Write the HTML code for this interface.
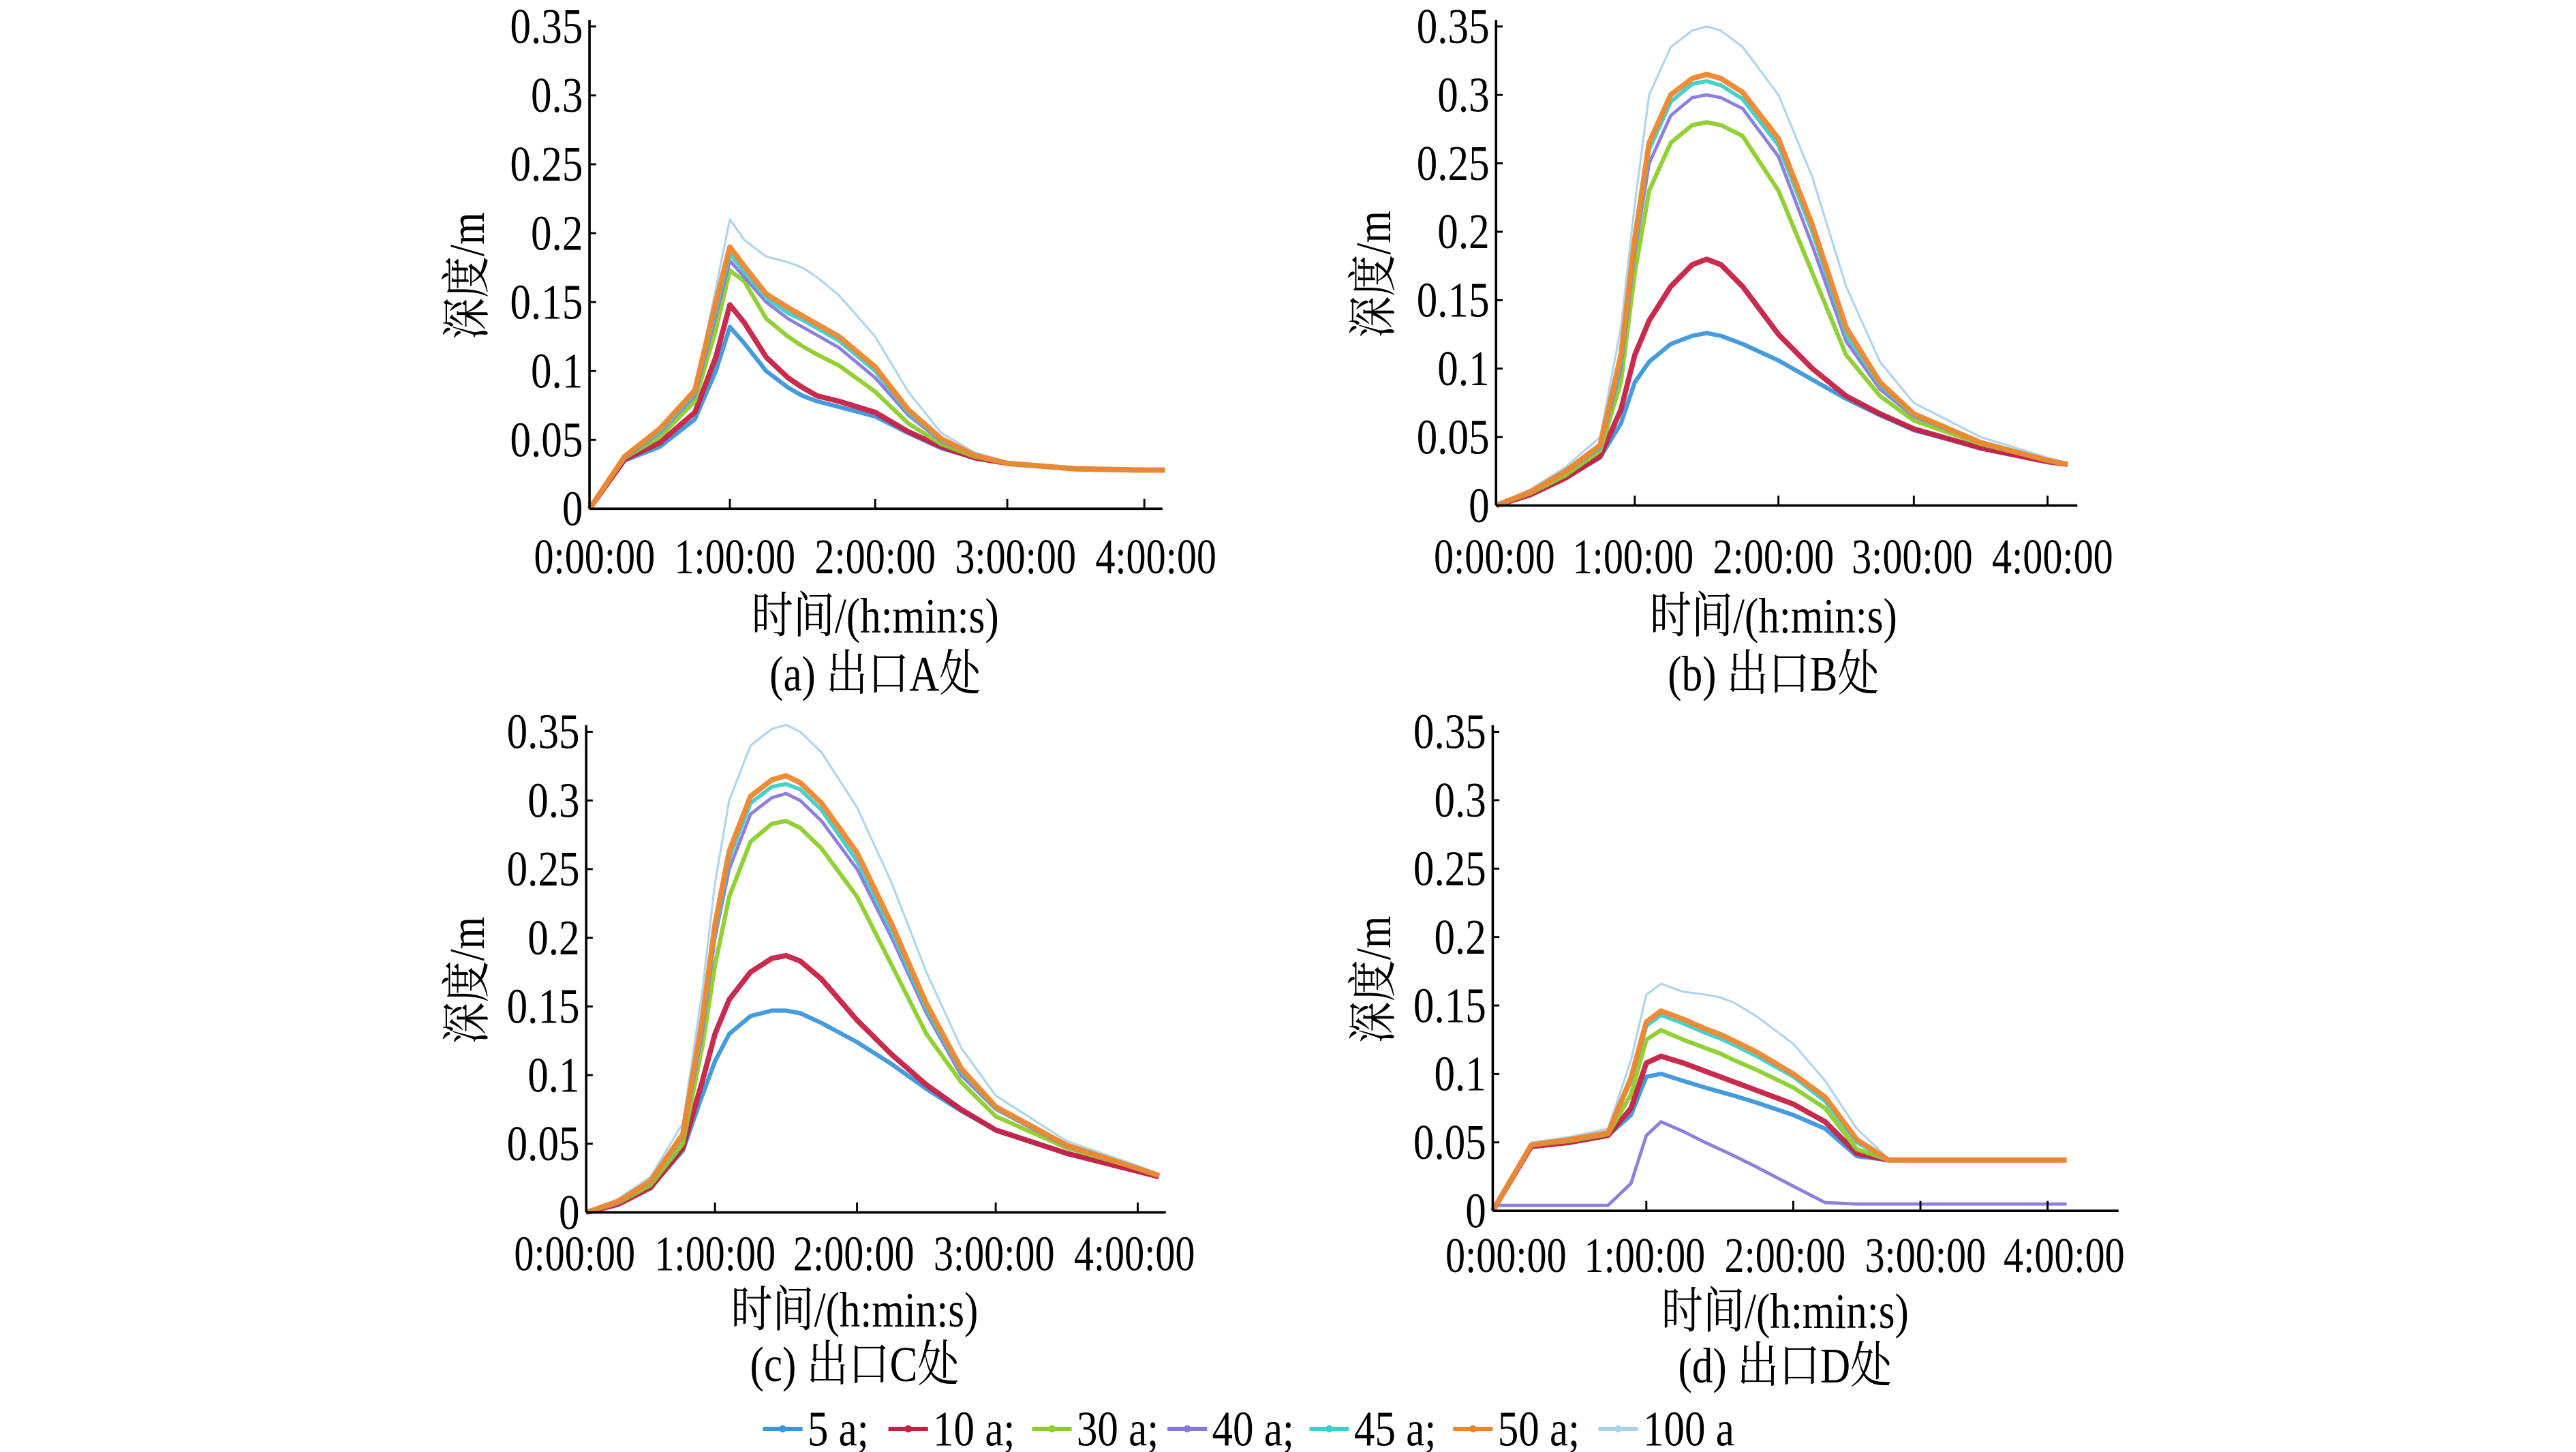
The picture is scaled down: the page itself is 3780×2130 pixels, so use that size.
<!DOCTYPE html>
<html><head><meta charset="utf-8"><style>
html,body{margin:0;padding:0;background:#fff;}
svg{display:block;}
text{font-family:"Liberation Serif","Noto Serif CJK SC","Noto Sans CJK SC",serif;fill:#000;}
</style></head><body>
<svg id="fig" xmlns="http://www.w3.org/2000/svg" width="3780" height="2130" viewBox="0 0 1560 879">
<rect width="1560" height="879" fill="#fff"/>
</svg>
<script>
const times = [0,0.25,0.5,0.75,0.9,1.0,1.1,1.25,1.4,1.5,1.6,1.75,2.0,2.25,2.5,2.75,3.0,3.5,4.0,4.15];
const seriesNames = ['5 a','10 a','30 a','40 a','45 a','50 a','100 a'];
const xTickLabels = ['0:00:00','1:00:00','2:00:00','3:00:00','4:00:00'];
const yTickValues = [0,0.05,0.1,0.15,0.2,0.25,0.3,0.35];
const yTickLabels = ['0','0.05','0.1','0.15','0.2','0.25','0.3','0.35'];

const panelA = [
 [0,.035,.045,.065,.1,.132,.12,.1,.088,.082,.078,.074,.067,.055,.044,.037,.033,.029,.028,.028],
 [0,.036,.048,.07,.11,.148,.135,.11,.095,.088,.082,.078,.07,.056,.045,.037,.033,.029,.028,.028],
 [0,.037,.052,.078,.13,.173,.165,.138,.125,.118,.112,.104,.085,.062,.047,.038,.033,.029,.028,.028],
 [0,.037,.055,.082,.14,.18,.168,.15,.138,.132,.126,.117,.095,.068,.049,.039,.033,.029,.028,.028],
 [0,.038,.056,.084,.145,.185,.172,.153,.142,.137,.131,.122,.1,.07,.05,.039,.033,.029,.028,.028],
 [0,.038,.058,.086,.15,.19,.176,.156,.146,.14,.134,.125,.103,.072,.051,.039,.033,.029,.028,.028],
 [0,.038,.058,.086,.16,.21,.195,.183,.179,.175,.168,.155,.125,.085,.055,.041,.034,.029,.028,.028]
];
const panelB = [
 [0,.008,.02,.035,.06,.09,.105,.118,.124,.126,.124,.118,.106,.092,.078,.066,.055,.042,.032,.030],
 [0,.008,.02,.036,.07,.11,.135,.16,.176,.18,.176,.16,.125,.1,.08,.067,.056,.042,.032,.030],
 [0,.009,.022,.04,.09,.17,.23,.265,.278,.28,.278,.27,.23,.17,.11,.08,.062,.045,.033,.030],
 [0,.01,.024,.042,.1,.185,.25,.285,.298,.3,.298,.29,.255,.19,.12,.085,.065,.046,.033,.030],
 [0,.01,.025,.043,.105,.19,.26,.295,.308,.31,.307,.297,.263,.2,.125,.088,.066,.046,.033,.030],
 [0,.01,.025,.044,.11,.195,.265,.3,.312,.315,.312,.302,.268,.205,.13,.09,.067,.046,.033,.030],
 [0,.012,.028,.05,.13,.22,.3,.335,.347,.35,.347,.335,.3,.24,.16,.105,.075,.05,.035,.031]
];
const panelC = [
 [0,.006,.018,.045,.085,.11,.13,.143,.147,.147,.145,.138,.124,.108,.09,.074,.06,.043,.03,.026],
 [0,.006,.018,.047,.095,.13,.155,.175,.185,.187,.183,.17,.14,.115,.093,.075,.06,.043,.03,.026],
 [0,.007,.02,.05,.12,.18,.23,.27,.283,.285,.28,.265,.23,.18,.13,.095,.07,.047,.032,.027],
 [0,.007,.022,.055,.13,.2,.25,.29,.302,.305,.3,.285,.25,.2,.145,.1,.075,.048,.032,.027],
 [0,.008,.022,.056,.135,.205,.258,.298,.31,.312,.308,.293,.256,.205,.148,.103,.076,.049,.032,.027],
 [0,.008,.023,.057,.14,.21,.263,.303,.315,.318,.313,.298,.262,.21,.152,.105,.077,.049,.032,.027],
 [0,.01,.026,.065,.16,.24,.3,.34,.352,.355,.35,.335,.295,.24,.175,.12,.085,.052,.034,.028]
];
const panelD = [
 [0,.047,.05,.055,.07,.098,.1,.095,.09,.087,.084,.079,.07,.06,.04,.037,.037,.037,.037,.037],
 [0,.047,.05,.055,.075,.108,.113,.108,.102,.098,.094,.088,.078,.065,.042,.037,.037,.037,.037,.037],
 [0,.048,.051,.056,.085,.125,.132,.125,.119,.115,.11,.103,.09,.075,.045,.037,.037,.037,.037,.037],
 [.004,.004,.004,.004,.02,.055,.065,.058,.05,.045,.04,.032,.018,.006,.005,.005,.005,.005,.005,.005],
 [0,.048,.052,.057,.095,.135,.143,.137,.13,.126,.121,.113,.098,.08,.05,.037,.037,.037,.037,.037],
 [0,.048,.052,.057,.097,.138,.146,.14,.133,.129,.124,.116,.1,.083,.052,.037,.037,.037,.037,.037],
 [0,.05,.054,.06,.11,.158,.166,.16,.158,.156,.152,.142,.122,.095,.06,.038,.037,.037,.037,.037]
];

const colors = ['#3a96dd','#c61f45','#8ccf2a','#8878dc','#3ccfcc','#f0852c','#a9d3ec'];
const widths = [2.6,3.2,2.6,2,2.4,3.2,1.3];
const NS='http://www.w3.org/2000/svg';
const svg=document.getElementById('fig');
function el(tag,attrs,parent){const e=document.createElementNS(NS,tag);for(const k in attrs)e.setAttribute(k,attrs[k]);(parent||svg).appendChild(e);return e;}
function txt(parent,x,y,anchor,size,s,rot,sx){
 const tr='translate('+x+' '+y+')'+(rot?' rotate(-90)':'')+' scale('+(sx||0.84)+' 1)';
 const t=el('text',{x:0,y:0,'text-anchor':anchor,'font-size':size,transform:tr},parent);
 t.textContent=s;return t;
}

const panels=[
 {id:'a',data:panelA,ax:357,y0:308,y35:16,ticks:[357,442,530,610,693],lx:[360,445,530,615,700],xend:704,lab:337,xt:373,cap:408,yt:283,caption:'(a) 出口A处'},
 {id:'b',data:panelB,ax:906,y0:306,y35:16,ticks:[906,990,1077,1159,1240],lx:[905,989,1074,1158,1243],xend:1258,lab:337,xt:373,cap:408,yt:832,caption:'(b) 出口B处'},
 {id:'c',data:panelC,ax:355,y0:734,y35:443,ticks:[355,433,519,603,689],lx:[348,433,517,602,687],xend:706,lab:759,xt:793,cap:826,yt:283,caption:'(c) 出口C处'},
 {id:'d',data:panelD,ax:904,y0:733,y35:443,ticks:[904,997,1086,1163,1240],lx:[912,996,1081,1166,1250],xend:1283,lab:760,xt:794,cap:827,yt:832,caption:'(d) 出口D处'}
];

panels.forEach(p=>{
 const g=el('g',{});
 
 
 const yS=v=>p.y0-(v/0.35)*(p.y0-p.y35);
 const xS=h=>{const i=Math.min(3,Math.floor(h));return p.ticks[i]+(h-i)*(p.ticks[i+1]-p.ticks[i]);};
 const order=[6,0,1,2,3,4,5];
 order.forEach(si=>{
  const pts=times.map((t,i)=>xS(t).toFixed(1)+','+yS(p.data[si][i]).toFixed(1)).join(' ');
  const pl=el('polyline',{points:pts,fill:'none',stroke:colors[si],'stroke-width':widths[si],'stroke-linejoin':'round','stroke-opacity':0.95},g);
  
  
 });
 const ya=el('line',{x1:p.ax,y1:p.y35-4,x2:p.ax,y2:p.y0,stroke:'#000','stroke-width':1.5},g);
 
 
 const xa=el('line',{x1:p.ax,y1:p.y0,x2:p.xend,y2:p.y0,stroke:'#000','stroke-width':1.5},g);
 
 
 yTickValues.forEach((v,i)=>{
  el('line',{x1:p.ax,y1:yS(v),x2:p.ax+4,y2:yS(v),stroke:'#000','stroke-width':1.2},g);
  const t=txt(g,p.ax-4,yS(v)+10,'end',30,yTickLabels[i]);
  
  
 });
 xTickLabels.forEach((s,i)=>{
  if(i>0) el('line',{x1:p.ticks[i],y1:p.y0,x2:p.ticks[i],y2:p.y0-6,stroke:'#000','stroke-width':1.2},g);
  const t=txt(g,p.lx[i],p.lab+10,'middle',30,s,false,0.8);
  
  
 });
 const cx=(p.lx[0]+p.lx[4])/2;
 const xt=txt(g,cx,p.xt+10,'middle',30,'时间/(h:min:s)');
 
 
 const cp=txt(g,cx,p.cap+10,'middle',30,p.caption);
 
 
 const ycy=(p.y0+p.y35)/2+5;
 const yt=txt(g,p.yt+10,ycy,'middle',30,'深度/m',true);
 
 
});

const legX=[462,538,625,707,793,880,968];
const lg=el('g',{});


seriesNames.forEach((n,i)=>{
 const x=legX[i];
 const e=el('g',{},lg);
 
 
 el('line',{x1:x,y1:865,x2:x+24,y2:865,stroke:colors[i],'stroke-width':2.5},e);
 el('circle',{cx:x+12,cy:865,r:2.2,fill:colors[i]},e);
 txt(e,x+27,875,'start',30,n+(i<6?';':''));
});
</script>
</body></html>
